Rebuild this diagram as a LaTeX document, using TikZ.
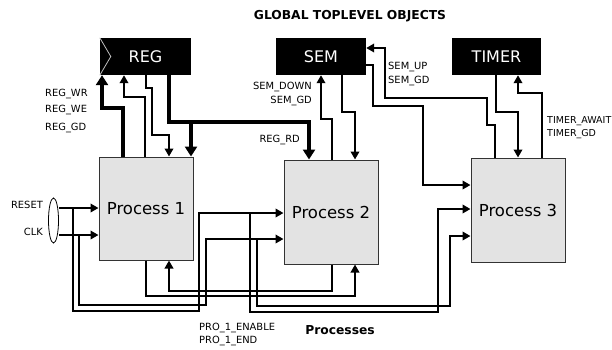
\documentclass[tikz,border=0pt]{standalone}
\usepackage{fontspec}
\setmainfont{DejaVu Sans}
\usetikzlibrary{arrows.meta,shapes.geometric}
\begin{document}
\begin{tikzpicture}[x=1pt,y=-1pt,
  glob/.style={fill=black,text=white,font=\fontsize{16}{18}\selectfont,inner sep=0pt,minimum height=37pt},
  proc/.style={draw=black!80,line width=1pt,fill=black!11,font=\fontsize{16.5}{19}\selectfont,inner sep=0pt,minimum width=94pt,minimum height=103pt},
  lbl/.style={font=\fontsize{9.9}{11}\selectfont,inner sep=0pt},
  hdr/.style={font=\bfseries\fontsize{12.3}{14}\selectfont,inner sep=0pt},
  wire/.style={line width=2pt,-{Triangle[length=8pt,width=8.5pt]}},
  bus/.style={line width=4pt,-{Triangle[length=10pt,width=12pt]}}
]
\useasboundingbox (0,0) rectangle (612,349);
\clip (0,0) rectangle (612,349);

% global objects
\node[glob,minimum width=91pt] (reg) at (145.5,56.5) {REG};
\draw[black!25,line width=0.8pt] (reg.north west) -- ([xshift=11pt]reg.west) -- (reg.south west);
\node[glob,minimum width=90pt] (sem) at (321,56.5) {SEM};
\node[glob,minimum width=89pt] (timer) at (496.5,56.5) {TIMER};

% processes
\node[proc] (p1) at (146,208.5) {Process 1};
\node[proc,minimum height=104pt] (p2) at (331,212) {Process 2};
\node[proc,minimum height=104pt] (p3) at (518,210) {Process 3};

\node[draw,line width=0.8pt,ellipse,minimum width=10pt,minimum height=45pt,inner sep=0pt] (grp) at (53.5,220.5) {};

% titles
\node[hdr] (title) at (350,16) {GLOBAL TOPLEVEL OBJECTS};
\node[hdr] (ptitle) at (340,330) {Processes};

% labels
\node[lbl,anchor=west] (lwr) at (45,94) {REG\_WR};
\node[lbl,anchor=west] (lwe) at (45,110) {REG\_WE};
\node[lbl,anchor=west] (lgd) at (45,128) {REG\_GD};
\node[lbl,anchor=east] (lsd) at (312,87) {SEM\_DOWN};
\node[lbl,anchor=east] (lsg) at (312,101) {SEM\_GD};
\node[lbl,anchor=east] (lrd) at (300,140) {REG\_RD};
\node[lbl,anchor=west] (lsu) at (388,67) {SEM\_UP};
\node[lbl,anchor=west] (lsg2) at (388,81) {SEM\_GD};
\node[lbl,anchor=west,font=\fontsize{9.5}{11}\selectfont] (lta) at (547,121) {TIMER\_AWAIT};
\node[lbl,anchor=west,font=\fontsize{9.5}{11}\selectfont] (ltg) at (547,134) {TIMER\_GD};
\node[lbl,anchor=east] (lrs) at (43,205) {RESET};
\node[lbl,anchor=east] (lck) at (43,232) {CLK};
\node[lbl,anchor=west] (lpe) at (199,328) {PRO\_1\_ENABLE};
\node[lbl,anchor=west] (lpn) at (199,341) {PRO\_1\_END};

% REG connectors
\draw[bus] (p1.north -| 123,0) -- (123,108) -- (102,108) -- (reg.south -| 102,0);
\draw[wire] (p1.north -| 145,0) -- (145,97) -- (124,97) -- (reg.south -| 124,0);
\draw[wire] (reg.south -| 146,0) -- (146,88) -- (152,88) -- (152,135) -- (169,135) -- (p1.north -| 169,0);
\draw[bus] (reg.south -| 169,0) -- (169,122) -- (309,122) -- (p2.north -| 309,0);
\coordinate (busj) at (191,122);
\draw[bus] (busj) -- (p1.north -| busj);

% SEM connectors
\draw[wire] (p2.north -| 332,0) -- (332,119) -- (321,119) -- (sem.south -| 321,0);
\draw[wire] (sem.south -| 342,0) -- (342,112) -- (355,112) -- (p2.north -| 355,0);
\draw[wire] (sem.east |- 0,65) -- (373,65) -- (373,106) -- (423,106) -- (423,185) -- (p3.west |- 0,185);
\draw[wire] (p3.north -| 495,0) -- (495,125) -- (487,125) -- (487,98) -- (385,98) -- (385,48) -- (sem.east |- 0,48);

% TIMER connectors
\draw[wire] (timer.south -| 496,0) -- (496,112) -- (518,112) -- (p3.north -| 518,0);
\draw[wire] (p3.north -| 542,0) -- (542,93) -- (518,93) -- (timer.south -| 518,0);

% RESET / CLK
\draw[wire] (grp.east |- 0,208) -- (p1.west |- 0,208);
\draw[wire] (grp.east |- 0,235) -- (p1.west |- 0,235);
\coordinate (rj1) at (73,208);
\coordinate (cj1) at (79,235);
\coordinate (rj2) at (250,213);
\coordinate (cj2) at (257,239);
\draw[wire] (rj1) -- (73,311) -- (199,311) -- (199,213) -- (p2.west |- 0,213);
\draw[wire] (cj1) -- (79,305) -- (206,305) -- (206,239) -- (p2.west |- 0,239);
\draw[wire] (rj2) -- (250,312) -- (438,312) -- (438,209) -- (p3.west |- 0,209);
\draw[wire] (cj2) -- (257,306) -- (450,306) -- (450,236) -- (p3.west |- 0,236);

% process to process
\draw[wire] (p1.south -| 146,0) -- (146,296) -- (355,296) -- (p2.south -| 355,0);
\draw[wire] (p2.south -| 332,0) -- (332,291) -- (169,291) -- (p1.south -| 169,0);
\end{tikzpicture}
\end{document}
